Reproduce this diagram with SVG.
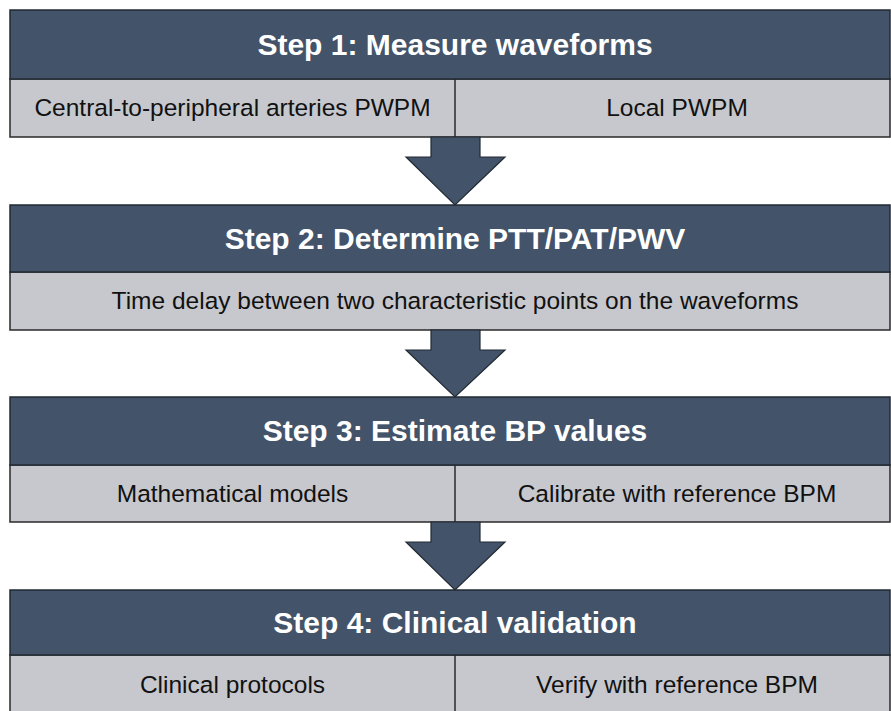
<svg xmlns="http://www.w3.org/2000/svg" width="891" height="711" viewBox="0 0 891 711">
<style>
.hd{fill:#435369;stroke:#222a33;stroke-width:1.5}
.sb{fill:#c6c8ce;stroke:#2a2a2a;stroke-width:1.5}
.dv{stroke:#2a2a2a;stroke-width:1.5}
.ht{font-family:"Liberation Sans",Arial,sans-serif;font-weight:bold;font-size:30px;fill:#fff;text-anchor:middle}
.st{font-family:"Liberation Sans",Arial,sans-serif;font-size:24.5px;fill:#111;text-anchor:middle}
.ar{fill:#435369;stroke:#222a33;stroke-width:1.2}
</style>
<rect width="891" height="711" fill="#fff"/>
<g id="step1">
<rect class="sb" x="10" y="79" width="880" height="58"/>
<rect class="hd" x="10" y="10" width="880" height="69"/>
<line class="dv" x1="455" y1="79" x2="455" y2="137"/>
<text class="ht" x="455" y="55">Step 1: Measure waveforms</text>
<text class="st" x="232.5" y="116">Central-to-peripheral arteries PWPM</text>
<text class="st" x="677" y="116">Local PWPM</text>
</g>
<g id="step2">
<rect class="sb" x="10" y="272" width="880" height="58"/>
<rect class="hd" x="10" y="205" width="880" height="67"/>
<text class="ht" x="455" y="249">Step 2: Determine PTT/PAT/PWV</text>
<text class="st" x="455" y="309">Time delay between two characteristic points on the waveforms</text>
</g>
<g id="step3">
<rect class="sb" x="10" y="465" width="880" height="57"/>
<rect class="hd" x="10" y="397" width="880" height="68"/>
<line class="dv" x1="455" y1="465" x2="455" y2="522"/>
<text class="ht" x="455" y="441">Step 3: Estimate BP values</text>
<text class="st" x="232.5" y="502">Mathematical models</text>
<text class="st" x="677" y="502">Calibrate with reference BPM</text>
</g>
<g id="step4">
<rect class="sb" x="10" y="655" width="880" height="70"/>
<rect class="hd" x="10" y="590" width="880" height="65"/>
<line class="dv" x1="455" y1="655" x2="455" y2="711"/>
<text class="ht" x="455" y="633">Step 4: Clinical validation</text>
<text class="st" x="232.5" y="693">Clinical protocols</text>
<text class="st" x="677" y="693">Verify with reference BPM</text>
</g>
<g id="connectors">
<polygon class="ar" points="431,137 480,137 480,157 505,157 455,205 406,157 431,157"/>
<polygon class="ar" points="431,330 480,330 480,350 505,350 455,397 406,350 431,350"/>
<polygon class="ar" points="431,522 480,522 480,542 505,542 455,590 406,542 431,542"/>
</g>
</svg>
